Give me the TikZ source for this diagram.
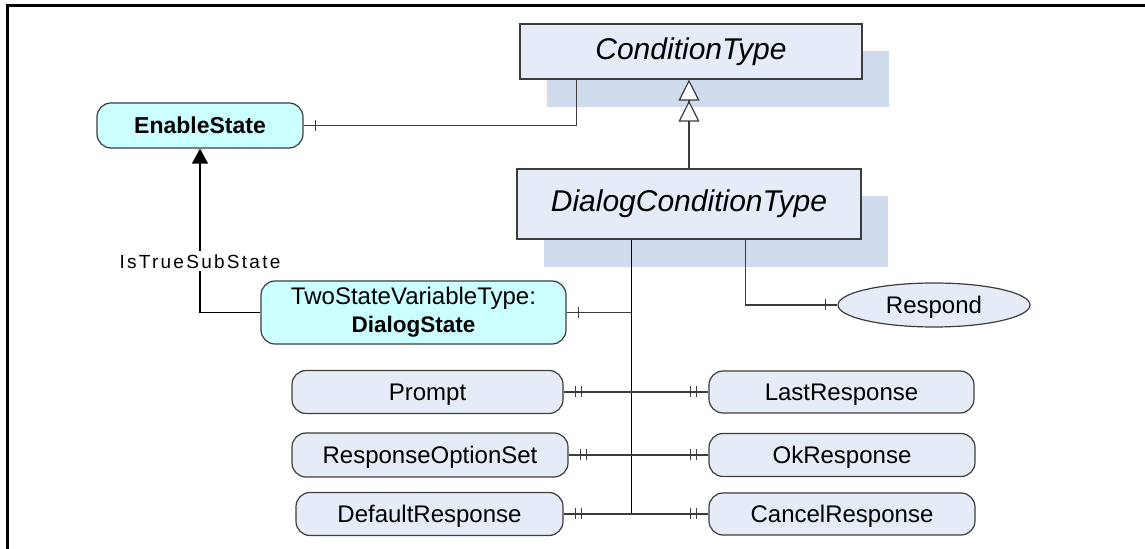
\documentclass[tikz,border=0pt]{standalone}
\usepackage{fontspec}
\setmainfont{Liberation Sans}
\usetikzlibrary{arrows.meta,shapes.geometric,calc}
\definecolor{boxfill}{RGB}{230,236,247}
\definecolor{shadowc}{RGB}{208,219,238}
\definecolor{cyanfill}{RGB}{204,255,255}
\definecolor{linec}{RGB}{60,60,60}
\begin{document}
\begin{tikzpicture}[x=0.5pt,y=-0.5pt,
  classbox/.style={draw=linec, line width=0.6pt, fill=boxfill, inner sep=0pt, font=\fontsize{15}{18}\selectfont\itshape},
  objbox/.style={draw=linec, line width=0.6pt, fill=boxfill, rounded corners=7pt, inner sep=0pt, font=\fontsize{12}{14}\selectfont},
  capc/.style={text height=8.6pt, text depth=0pt},
  statebox/.style={objbox, fill=cyanfill},
  methodnode/.style={ellipse, draw=linec, line width=0.6pt, fill=boxfill, inner sep=0pt, font=\fontsize{12}{14}\selectfont, text height=8.6pt, text depth=0pt},
  conn/.style={draw=linec, line width=0.6pt},
  tk/.style={draw=linec, line width=0.6pt},
  gen/.style={conn, -{Triangle[open, fill=white, length=10.5pt, width=10.5pt, sep=0pt] Triangle[open, fill=white, length=10.5pt, width=10.5pt, sep=0pt]}},
  truearrow/.style={draw=black, line width=0.6pt, -{Triangle[length=7.5pt, width=8pt]}},
  lbl/.style={fill=white, inner sep=1.5pt, font=\fontsize{9.5}{11}\selectfont\addfontfeature{LetterSpace=12}},
]
\useasboundingbox (0,0) rectangle (1145,549);
% frame
\draw[line width=1.5pt] (5.5,6) -- (1145,6);
\draw[line width=1.5pt] (7,4.5) -- (7,549);
% shadows
\fill[shadowc] (547,51) rectangle (889,107);
\fill[shadowc] (544,196) rectangle (888,267);
% nodes
\node[classbox, minimum width=171pt, minimum height=27.5pt] (ct) at (691,51.5) {ConditionType};
\node[classbox, minimum width=172pt, minimum height=35pt] (dct) at (689,204) {DialogConditionType};
\node[statebox, minimum width=103pt, minimum height=22.5pt, font=\fontsize{11.5}{14}\selectfont\bfseries, text height=8.2pt, text depth=0pt] (es) at (200,125.5) {EnableState};
\node[statebox, minimum width=152.5pt, minimum height=31.5pt, align=center] (ts) at (413.5,312.5) {TwoStateVariableType:\\{\bfseries\fontsize{11.25}{14}\selectfont DialogState}};
\node[methodnode, minimum width=96pt, minimum height=22pt] (rsp) at (934,305) {Respond};
\node[objbox, capc, minimum width=135.5pt, minimum height=21.5pt] (prompt) at (427.5,392) {Prompt};
\node[objbox, capc, minimum width=138pt, minimum height=22pt] (ros) at (430,455) {ResponseOptionSet};
\node[objbox, capc, minimum width=133.5pt, minimum height=21.5pt] (def) at (429.5,514) {DefaultResponse};
\node[objbox, capc, minimum width=132.5pt, minimum height=21pt] (last) at (841.5,392) {LastResponse};
\node[objbox, capc, minimum width=133pt, minimum height=21.5pt] (ok) at (842,455) {OkResponse};
\node[objbox, capc, minimum width=133pt, minimum height=21pt] (cancel) at (842,514) {CancelResponse};
% helper coordinates
\coordinate (ctL) at ($(ct.south west)+(57,0)$);
\coordinate (busT) at ($(dct.south west)+(115,0)$);
\coordinate (busB) at (busT |- cancel.west);
\coordinate (rspT) at ($(dct.south west)+(229,0)$);
% connectors
\draw[conn] (es.east) -| (ctL);
\draw[tk] ($(es.east)+(12,-5.5)$) -- ++(0,11);
\draw[gen] (dct.north) -- (dct.north |- ct.south);
\draw[truearrow] (ts.west) -| node[lbl, pos=0.656] (lab) {IsTrueSubState} (es.south);
\draw[draw=black, line width=0.6pt] (busT) -- (busB);
\draw[conn] (ts.east) -- (ts.east -| busT);
\draw[tk] ($(ts.east)+(12,-5.5)$) -- ++(0,11);
\draw[conn] (rspT) |- (rsp.west);
\draw[tk] ($(rsp.west)+(-12,-5.5)$) -- ++(0,11);
\foreach \L/\R in {prompt/last, ros/ok, def/cancel}{
  \draw[conn] (\L.east) -- (\R.west);
  \draw[tk] ($(\L.east)+(12,-5.5)$) -- ++(0,11);
  \draw[tk] ($(\L.east)+(18,-5.5)$) -- ++(0,11);
  \draw[tk] ($(\R.west)+(-12,-5.5)$) -- ++(0,11);
  \draw[tk] ($(\R.west)+(-18,-5.5)$) -- ++(0,11);
}
\end{tikzpicture}
\end{document}
